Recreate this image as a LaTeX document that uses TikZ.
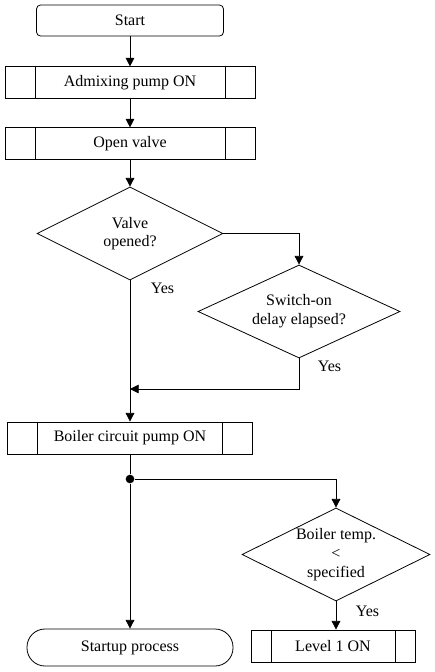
\documentclass[tikz,border=0pt]{standalone}
\usepackage{fontspec}
\setmainfont{Liberation Serif}
\usetikzlibrary{arrows.meta,shapes.geometric}
\begin{document}
\begin{tikzpicture}[x=0.75pt,y=-0.75pt,>={Triangle[length=6.5pt,width=6.5pt]},
    line width=0.6pt,
    every node/.style={font=\fontsize{12}{14}\selectfont},
    terminal/.style={draw,rectangle,rounded corners=3pt,
        minimum width=140.25pt,minimum height=23.25pt},
    subproc/.style={draw,rectangle,inner sep=0pt,minimum height=23.5pt,
        path picture={\draw
            ([xshift=#1]path picture bounding box.north west) --
            ([xshift=#1]path picture bounding box.south west)
            ([xshift=-#1]path picture bounding box.north east) --
            ([xshift=-#1]path picture bounding box.south east);}},
    subproc/.default=22.5pt,
    decision/.style={draw,diamond,aspect=2,inner sep=-4pt,align=center,
        minimum height=69.75pt},
    stadium/.style={draw,rectangle,rounded corners=13.5pt,
        minimum width=154.5pt,minimum height=27.75pt}]
    \useasboundingbox (0,0) rectangle (435,672);
    % left column
    \node[terminal] (start) at (130,20.5) {Start};
    \node[subproc,minimum width=187.5pt] (admix) at (130,82.5)
        {Admixing pump ON};
    \node[subproc,minimum width=187.5pt] (valve) at (130,143.5)
        {Open valve};
    \node[decision,minimum width=139.5pt] (opened) at (130,233.5)
        {Valve\\opened?};
    \node[decision,minimum width=151.5pt] (delay) at (299,311.5)
        {Switch-on\\delay elapsed?};
    \coordinate (merge) at (130,389);
    \node[subproc,minimum width=183.75pt,minimum height=24pt] (boiler)
        at (130,438) {Boiler circuit pump ON};
    \node[circle,fill,inner sep=0pt,minimum size=6.5pt] (split)
        at (130,479) {};
    \node[stadium] (startup) at (130,647.5) {Startup process};
    % right branch
    \node[decision,minimum width=141pt] (temp) at (336,554.5)
        {Boiler temp.\\<\\specified};
    \node[subproc=15pt,minimum width=123pt,minimum height=24pt] (level)
        at (333,646) {Level 1 ON};
    \node[anchor=west] (yesA) at (146,288) {Yes};
    \node[anchor=west] (yesB) at (313,366) {Yes};
    \node[anchor=west] (yesC) at (351,611) {Yes};
    % connectors
    \draw[->] (start) -- (admix);
    \draw[->] (admix) -- (valve);
    \draw[->] (valve) -- (opened);
    \draw[->] (opened.east) -| (delay.north);
    \draw[->] (opened.south) -- (boiler.north);
    \draw[->] (delay.south) |- (merge);
    \draw (boiler) -- (split);
    \draw[->] (split) -- (startup);
    \draw[->] (split) -| (temp.north);
    \draw[->] (temp.south) -- (temp.south |- level.north);
\end{tikzpicture}
\end{document}
